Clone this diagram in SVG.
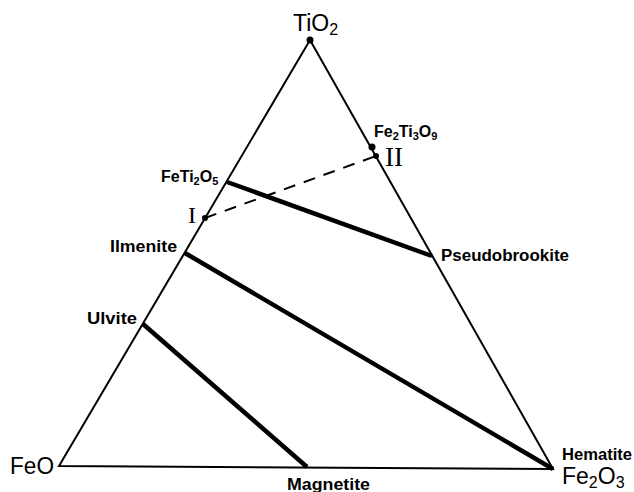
<svg xmlns="http://www.w3.org/2000/svg" width="634" height="492" viewBox="0 0 634 492">
<style>
.edge{stroke:#000;stroke-width:2;fill:none;stroke-linejoin:miter}
.thick{stroke:#000;stroke-width:4.5;fill:none}
.dash{stroke:#000;stroke-width:2;fill:none;stroke-dasharray:12 9}
.big{font-family:"Liberation Sans",Arial,sans-serif;font-size:23px;fill:#000}
.lbl{font-family:"Liberation Sans",Arial,sans-serif;font-size:16px;font-weight:bold;fill:#000}
.rom{font-family:"Liberation Serif","Times New Roman",serif;fill:#000}
.s{font-size:11px}
.sb{font-size:16px}
</style>
<rect width="634" height="492" fill="#fff"/>
<g id="connectors">
<polygon class="edge" points="310,40 59,466 553,469"/>
<line class="thick" x1="227" y1="182" x2="432" y2="256"/>
<line class="thick" x1="185" y1="253" x2="553" y2="469"/>
<line class="thick" x1="143" y1="324" x2="307" y2="467"/>
<line class="dash" x1="205" y1="218" x2="376" y2="156"/>
</g>
<g id="TiO2"><circle cx="310" cy="40" r="3.5"/><text class="big" x="293" y="31">TiO<tspan class="sb" dy="4">2</tspan></text></g>
<g id="FeO"><text class="big" x="10" y="474" textLength="44" lengthAdjust="spacingAndGlyphs">FeO</text></g>
<g id="Fe2O3"><text class="big" x="562" y="484">Fe<tspan class="sb" dy="4">2</tspan><tspan dy="-4">O</tspan><tspan class="sb" dy="4">3</tspan></text></g>
<g id="Hematite"><text class="lbl" x="562" y="460" textLength="70" lengthAdjust="spacingAndGlyphs">Hematite</text></g>
<g id="Magnetite"><text class="lbl" x="287" y="490" textLength="83" lengthAdjust="spacingAndGlyphs">Magnetite</text></g>
<g id="Fe2Ti3O9"><circle cx="372" cy="147" r="3.5"/><text class="lbl" x="374" y="137">Fe<tspan class="s" dy="3">2</tspan><tspan dy="-3">Ti</tspan><tspan class="s" dy="3">3</tspan><tspan dy="-3">O</tspan><tspan class="s" dy="3">9</tspan></text></g>
<g id="II"><circle cx="376" cy="156" r="3"/><text class="rom" x="385" y="166" font-size="27">II</text></g>
<g id="FeTi2O5"><text class="lbl" x="161" y="182">FeTi<tspan class="s" dy="3">2</tspan><tspan dy="-3">O</tspan><tspan class="s" dy="3">5</tspan></text></g>
<g id="I"><circle cx="205" cy="218" r="3"/><text class="rom" x="188" y="223" font-size="24">I</text></g>
<g id="Ilmenite"><text class="lbl" x="110" y="252" textLength="67" lengthAdjust="spacingAndGlyphs">Ilmenite</text></g>
<g id="Pseudobrookite"><text class="lbl" x="441" y="261" textLength="128" lengthAdjust="spacingAndGlyphs">Pseudobrookite</text></g>
<g id="Ulvite"><text class="lbl" x="87" y="324" textLength="50" lengthAdjust="spacingAndGlyphs">Ulvite</text></g>
</svg>
